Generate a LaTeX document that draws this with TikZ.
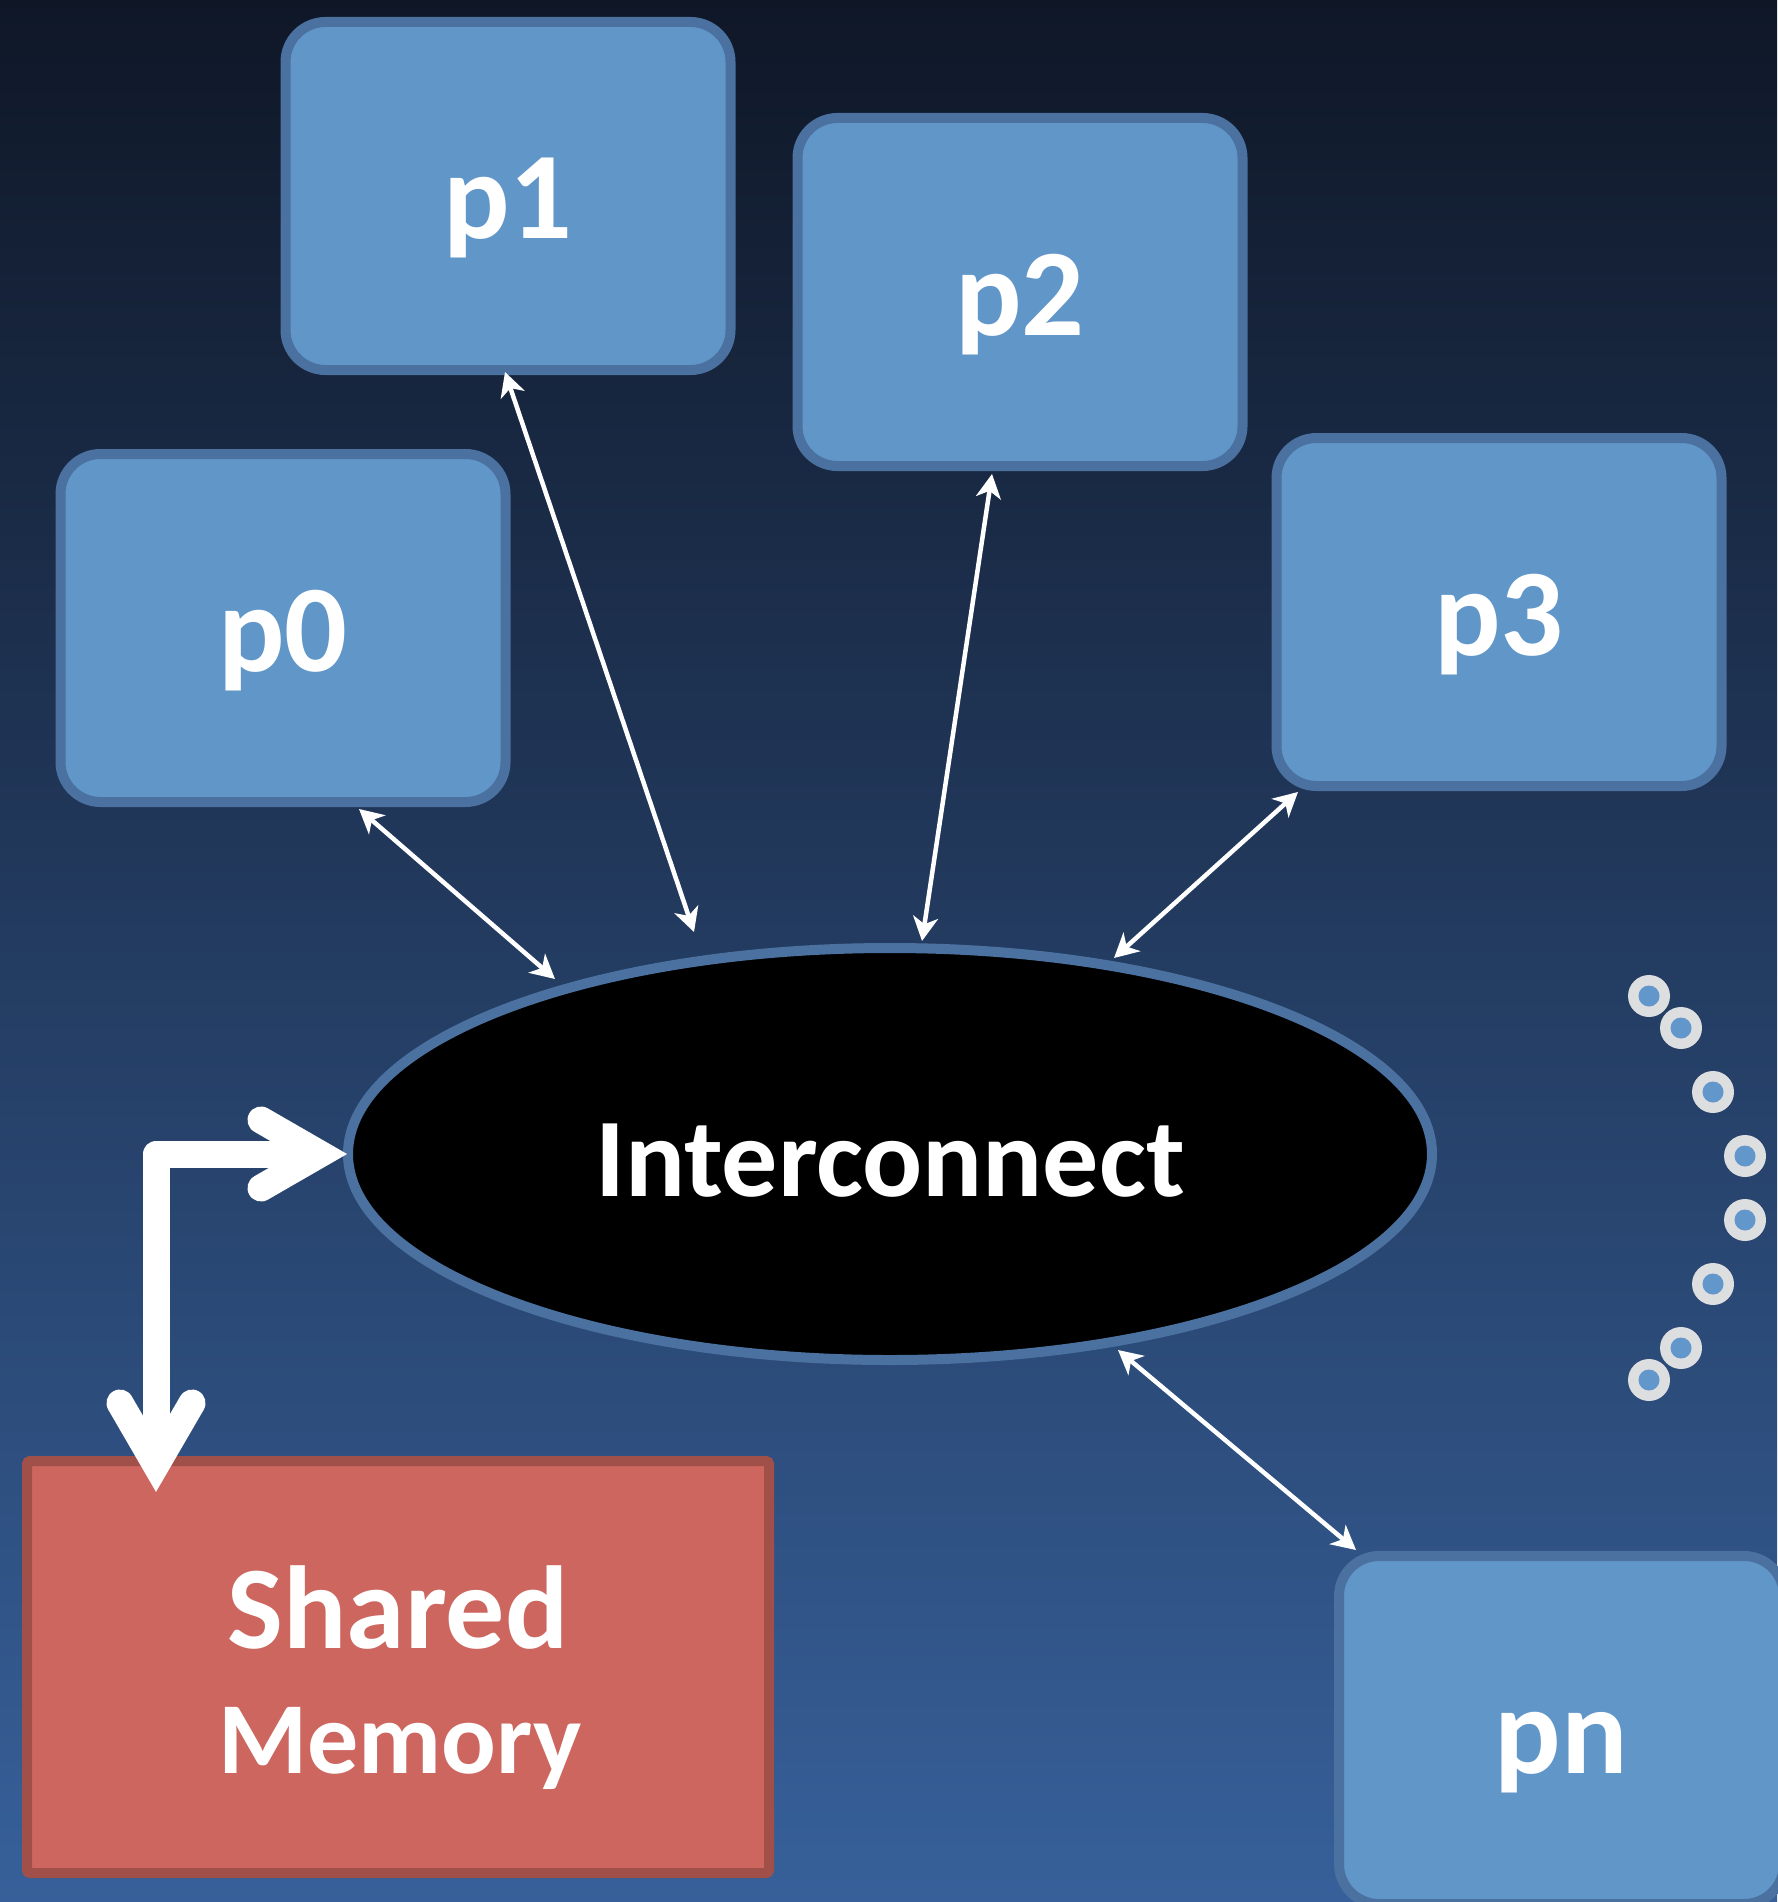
\documentclass[tikz,border=0pt]{standalone}
\usepackage{fontspec}
\setmainfont{Carlito}
\usetikzlibrary{arrows.meta,shapes.geometric,calc}
\definecolor{bgtop}{HTML}{0F1727}
\definecolor{bgbot}{HTML}{37609A}
\definecolor{pfill}{HTML}{6196C9}
\definecolor{pborder}{HTML}{4A719F}
\definecolor{memfill}{HTML}{CC665F}
\definecolor{memborder}{HTML}{A04F49}
\definecolor{dotouter}{HTML}{DCDEE0}
\definecolor{dotinner}{HTML}{6197CA}
\begin{document}
\begin{tikzpicture}[x=1pt,y=-1pt,
  pbox/.style={draw=pborder, fill=pfill, line width=10pt, rounded corners=40pt,
    minimum width=445pt, minimum height=348pt, inner sep=0pt, text=white,
    font=\fontsize{124pt}{124pt}\selectfont\bfseries, text height=86pt, text depth=0pt},
  icnode/.style={ellipse, draw=pborder, fill=black, line width=10pt,
    minimum width=1084pt, minimum height=412pt, inner sep=0pt, text=white,
    font=\fontsize{112pt}{112pt}\selectfont\bfseries, text height=84pt, text depth=0pt},
  membox/.style={draw=memborder, fill=memfill, line width=10pt, rounded corners=3pt,
    minimum width=742pt, minimum height=412pt, inner sep=0pt},
  memtext/.style={text=white, anchor=base, inner sep=0pt, font=\bfseries},
  biarrow/.style={draw=white, line width=4.5pt,
    {Stealth[length=24pt,width=25pt,inset=7pt]}-{Stealth[length=24pt,width=25pt,inset=7pt]}},
  bigline/.style={draw=white, line width=27pt, line join=round},
  bighead/.style={draw=white, line width=27pt, line join=miter, line cap=round},
]
\useasboundingbox (0,0) rectangle (1777,1902);
\shade[top color=bgtop, bottom color=bgbot] (0,0) rectangle (1777,1902);

% processor boxes
\node[pbox] (p1) at (508,196) {p1};
\node[pbox] (p0) at (283,628) {p0};
\node[pbox] (p2) at (1020,292) {p2};
\node[pbox] (p3) at (1499,612) {p3};
\node[pbox] (pn) at (1561.5,1730) {pn};

% interconnect
\node[icnode] (ic) at (890,1154) {Interconnect};

% shared memory
\node[membox] (mem) at (398,1667) {};
\node[memtext, font=\fontsize{118pt}{118pt}\selectfont\bfseries] (memA) at ($(mem.center)+(0,-19)$) {Shared};
\node[memtext, font=\fontsize{102pt}{102pt}\selectfont\bfseries] (memB) at ($(mem.center)+(2,106)$) {Memory};

% thin double arrows
\draw[biarrow] ($(p0.south)+(76,2)$) -- ($(ic.center)+(-335,-175)$);
\draw[biarrow] ($(p1.south)+(-3,-3)$) -- ($(ic.center)+(-196,-222)$);
\draw[biarrow] ($(p2.south)+(-28,3)$) -- ($(ic.center)+(32,-213)$);
\draw[biarrow] ($(p3.south)+(-201,1)$) -- ($(ic.center)+(224,-196)$);
\draw[biarrow] ($(ic.center)+(228,196)$) -- ($(pn.north)+(-205.5,-1)$);

% big arrow between interconnect and memory
\path (ic.west) ++(-187,0) coordinate (corner);
\coordinate (v1) at ($(ic.west)+(-23,0)$);
\coordinate (v2) at ($(corner |- mem.north)+(0,9)$);
\draw[bigline] (v1) -- (corner) -- (v2);
\draw[bighead] ($(v1)+(-59,-34)$) -- (v1) -- ($(v1)+(-59,34)$);
\draw[bighead] ($(v2)+(-36,-62)$) -- (v2) -- ($(v2)+(36,-62)$);

% continuation dots
\foreach \x/\y in {1649/996,1681/1028,1713/1092,1745/1156,1745/1220,1713/1284,1681/1348,1649/1380}{
  \fill[dotouter] (\x,\y) circle (21);
  \fill[dotinner] (\x,\y) circle (10.5);
}
\end{tikzpicture}
\end{document}
